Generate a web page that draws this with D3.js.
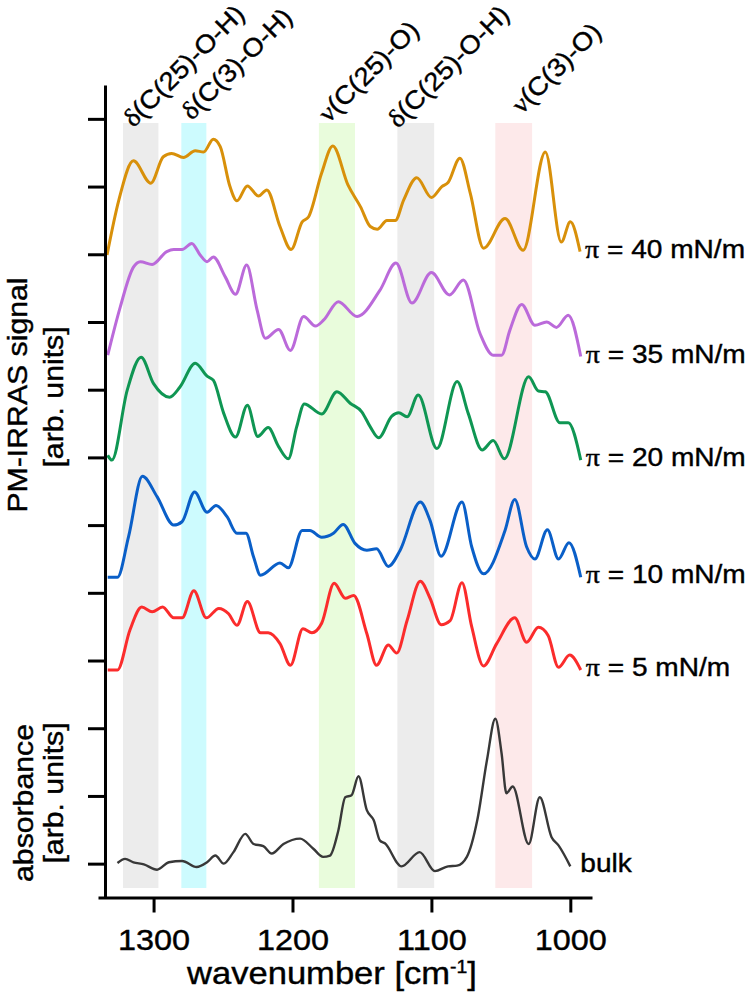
<!DOCTYPE html>
<html>
<head>
<meta charset="utf-8">
<script src="https://cdn.jsdelivr.net/npm/d3@7"></script>
<style>
  body { margin: 0; background: #fff; }
  text { font-family: "Liberation Sans", Arial, sans-serif; fill: #000; stroke: #000; stroke-width: 0.4px; }
</style>
</head>
<body>
<div id="chart"></div>
<script>
// PM-IRRAS spectra at several surface pressures + bulk absorbance

// parameters
var WIDTH = 753;
var HEIGHT = 997;
var STRETCH = 1.08;   // letters in the figure are a bit wider than Arial
var GREEK = "'Liberation Serif', 'Times New Roman', serif";

// absorption bands (cm-1)
var bandFrom = [1322, 1280, 1181, 1124.5, 1054];
var bandTo = [1296.5, 1262, 1155, 1098, 1027.5];
var bandFill = ["#ececec", "#cdfbfe", "#e9fcdc", "#ececec", "#fde9ea"];
var bandGreek = ["δ", "δ", "ν", "δ", "ν"];
var bandText = ["(C(25)-O-H)", "(C(3)-O-H)", "(C(25)-O)", "(C(25)-O-H)", "(C(3)-O)"];
var bandLabelWn = [1314.5, 1272.5, 1174, 1124, 1035];
var bandLabelY = [10.86, 10.97, 10.93, 10.85, 11.06];

// axis ticks
var xMajor = [1300, 1200, 1100, 1000];
var xMinor = [1325, 1275, 1250, 1225, 1175, 1150, 1125, 1075, 1050, 1025];
var yMajor = [0, 1, 2, 3, 4, 5, 6, 7, 8, 9, 10, 11];
var yMinor = [0.5, 1.5, 2.5, 3.5, 4.5, 5.5, 6.5, 7.5, 8.5, 9.5, 10.5, 11.5];

// spectra: [wavenumber, signal] (already offset as stacked in the figure)
var pi40 = [[1333.5,8.99],[1325,9.80],[1314.5,10.38],[1302,10.05],[1293,10.44],[1287,10.49],[1278.5,10.43],
  [1270,10.53],[1264,10.51],[1257,10.70],[1252,10.59],[1245,10.00],[1240,9.79],[1232.5,10.01],[1224.5,9.86],
  [1218.5,9.95],[1209,9.41],[1201,9.07],[1193,9.48],[1188.5,9.55],[1179,10.20],[1171,10.60],[1160,10.02],
  [1151,9.70],[1144,9.41],[1139,9.37],[1132,9.50],[1126,9.50],[1120,9.80],[1110.5,10.13],[1100,9.84],
  [1092.5,10.00],[1088,10.06],[1079.5,10.42],[1072,9.90],[1062.5,9.09],[1047,9.53],[1034,9.06],[1018,10.51],
  [1006.5,9.18],[1000,9.48],[993,9.04]];
var pi35 = [[1333,7.51],[1324,8.22],[1314.5,8.81],[1309.5,8.89],[1301,8.85],[1290.5,9.04],[1285.5,9.07],
  [1279.5,9.07],[1272.5,9.16],[1266.5,8.99],[1261.5,8.89],[1257,8.96],[1248.5,8.67],[1241,8.41],[1233,8.84],
  [1225.5,8.18],[1219.5,7.76],[1210,7.89],[1201.5,7.58],[1192,8.08],[1183.5,7.94],[1177.5,8.03],[1167,8.30],
  [1153.5,8.08],[1137,8.47],[1125.5,8.87],[1114,8.28],[1100,8.73],[1087,8.40],[1077,8.62],[1065,7.83],
  [1055.5,7.51],[1049.5,7.51],[1043.5,7.88],[1035,8.26],[1025.5,7.95],[1017,8.00],[1010,7.92],[1001.5,8.10],
  [992.5,7.49]];
var pi20 = [[1333,6.03],[1330,5.96],[1319,6.99],[1309,7.48],[1300,7.09],[1288.5,6.89],[1281,7.04],[1270,7.39],
  [1261.5,7.20],[1257,7.14],[1249.5,6.65],[1241,6.30],[1232.5,6.77],[1225,6.31],[1217.5,6.44],[1210,6.16],
  [1203,5.98],[1197,6.45],[1191.5,6.79],[1179,6.64],[1168,6.97],[1158.5,6.80],[1150,6.67],[1144,6.45],
  [1138,6.29],[1128.5,6.61],[1123.5,6.66],[1117.5,6.60],[1109.5,6.92],[1096,6.13],[1081.5,7.12],[1073.5,6.65],
  [1063.5,6.11],[1055.5,6.25],[1047.5,5.98],[1030,7.19],[1023,6.98],[1018,6.97],[1007.5,6.51],[1001.5,6.51],
  [992.5,5.96]];
var pi10 = [[1333,4.23],[1326,4.23],[1318,4.83],[1308,5.72],[1297.5,5.42],[1285.5,5.00],[1279.5,5.05],
  [1270.5,5.49],[1261.5,5.19],[1255,5.29],[1247,5.12],[1240,4.88],[1233.5,4.88],[1228,4.53],[1223,4.26],
  [1209,4.44],[1203,4.37],[1193,4.92],[1187.5,4.92],[1179,4.82],[1170.5,4.88],[1163.5,5.01],[1155,4.73],
  [1146.5,4.63],[1139.5,4.65],[1131,4.39],[1122.5,4.63],[1108,5.34],[1101,5.07],[1093,4.54],[1078,5.34],
  [1071,4.68],[1062.5,4.28],[1047,4.92],[1040,5.38],[1031.5,4.68],[1025.5,4.50],[1016.5,4.93],[1008.5,4.50],
  [1001,4.74],[992.5,4.23]];
var pi5 = [[1333,2.86],[1326,2.86],[1317,3.45],[1308.5,3.79],[1301,3.72],[1293.5,3.79],[1285.5,3.63],
  [1279.5,3.63],[1271,4.03],[1262,3.63],[1253,3.77],[1246,3.69],[1240,3.52],[1232.5,3.87],[1223,3.41],
  [1217.5,3.41],[1209,3.25],[1201.5,2.93],[1192.5,3.47],[1186,3.41],[1179,3.55],[1170,4.14],[1162,3.92],
  [1156,3.96],[1146.5,3.40],[1139.5,2.93],[1131,3.23],[1125,3.11],[1117.5,3.59],[1108,4.17],[1101,3.92],
  [1093,3.53],[1086.5,3.59],[1078,4.15],[1071,3.50],[1062.5,2.92],[1053,3.25],[1040,3.63],[1031.5,3.27],
  [1023,3.49],[1016,3.37],[1008.5,2.90],[1000.5,3.08],[992.5,2.86]];
var bulk = [[1326,0.01],[1320.5,0.07],[1314.5,0.02],[1307,-0.01],[1297.5,-0.09],[1289,0.02],[1279.5,0.04],
  [1269,-0.05],[1261.5,0.02],[1255.5,0.12],[1249.5,0.00],[1242.5,0.17],[1234,0.44],[1228,0.29],[1221,0.26],
  [1215,0.15],[1206.5,0.29],[1194.5,0.37],[1185,0.22],[1178,0.10],[1173,0.12],[1167,0.49],[1162,0.98],
  [1157.5,1.01],[1152.5,1.29],[1146.5,0.79],[1141.5,0.64],[1137,0.34],[1133.5,0.30],[1121.5,-0.04],
  [1108.5,0.17],[1097.5,-0.11],[1088,-0.04],[1081.5,-0.03],[1074.5,0.10],[1067,0.64],[1060,1.53],[1054,2.14],
  [1049.5,1.63],[1046,1.04],[1041.5,1.14],[1030,0.29],[1022,0.98],[1013.5,0.39],[1008.5,0.27],[1000,-0.04]];

var seriesData = [pi40, pi35, pi20, pi10, pi5, bulk];
var seriesName = ["40 mN/m", "35 mN/m", "20 mN/m", "10 mN/m", "5 mN/m", "bulk"];
var seriesColor = ["#d8900a", "#bb6ada", "#0f9653", "#0a5fc8", "#fb2c2c", "#383838"];

// scales
var x = d3.scaleLinear().domain([1340, 984.4]).range([98, 592]);
var y = d3.scaleLinear().domain([-0.5, 11.5]).range([897.5, 85]);
var YAXIS_X = 105;

var svg = d3.select("#chart").append("svg")
  .attr("width", WIDTH)
  .attr("height", HEIGHT);

// shaded bands
var BAND_TOP = 123;
var BAND_BOTTOM = 888;
svg.append("g").selectAll("rect")
  .data(bandFrom)
  .enter().append("rect")
  .attr("x", function(d, i){ return x(d); })
  .attr("width", function(d, i){ return x(bandTo[i]) - x(d); })
  .attr("y", BAND_TOP)
  .attr("height", BAND_BOTTOM - BAND_TOP)
  .style("fill", function(d, i){ return bandFill[i]; });

// band labels, rotated
var labels = svg.append("g").selectAll("text")
  .data(bandText)
  .enter().append("text")
  .attr("transform", function(d, i){
    return "translate(" + x(bandLabelWn[i]) + "," + y(bandLabelY[i]) + ") rotate(-45) scale(" + STRETCH + ",1)";
  })
  .style("font-size", "25.5px");
labels.append("tspan")
  .style("font-family", GREEK)
  .text(function(d, i){ return bandGreek[i]; });
labels.append("tspan")
  .text(function(d){ return d; });

// spectra
var line = d3.line()
  .x(function(d){ return x(d[0]); })
  .y(function(d){ return y(d[1]); })
  .curve(d3.curveMonotoneX);

svg.append("g").selectAll("path")
  .data(seriesData)
  .enter().append("path")
  .attr("d", line)
  .style("fill", "none")
  .style("stroke", function(d, i){ return seriesColor[i]; })
  .style("stroke-width", function(d, i){ return i == 5 ? 2.4 : 3; })
  .style("stroke-linejoin", "round");

// series names at the right end of each trace
var names = svg.append("g").selectAll("text")
  .data(seriesData)
  .enter().append("text")
  .attr("transform", function(d, i){
    var last = d[d.length - 1];
    var dx = i == 5 ? 10 : 5;
    return "translate(" + (x(last[0]) + dx) + "," + (y(last[1]) + 6) + ") scale(" + STRETCH + ",1)";
  })
  .style("font-size", "26px");
names.append("tspan")
  .style("font-family", GREEK)
  .text(function(d, i){ return i == 5 ? "" : "π"; });
names.append("tspan")
  .text(function(d, i){ return i == 5 ? seriesName[i] : " = " + seriesName[i]; });

// x axis
var xAxis = svg.append("g")
  .attr("transform", "translate(0," + y(-0.5) + ")");
xAxis.call(d3.axisBottom(x).tickValues(xMinor).tickSize(8).tickSizeOuter(0).tickFormat(""));
xAxis.call(d3.axisBottom(x).tickValues(xMajor).tickSize(15).tickSizeOuter(0).tickFormat(d3.format("d")));
xAxis.selectAll("path, line")
  .style("stroke", "#000")
  .style("stroke-width", 3);
xAxis.selectAll("text")
  .attr("y", 53)
  .attr("dy", "0")
  .attr("transform", "scale(" + STRETCH + ",1)")
  .style("font-size", "30px")
  .style("font-family", "'Liberation Sans', Arial, sans-serif")
  .style("fill", "#000");

// y axis (no labels)
var yAxis = svg.append("g")
  .attr("transform", "translate(" + YAXIS_X + ",0)");
yAxis.call(d3.axisLeft(y).tickValues(yMinor).tickSize(8).tickSizeOuter(0).tickFormat(""));
yAxis.call(d3.axisLeft(y).tickValues(yMajor).tickSize(17).tickSizeOuter(0).tickFormat(""));
yAxis.selectAll("path, line")
  .style("stroke", "#000")
  .style("stroke-width", 3);

// axis titles
var xTitle = svg.append("text")
  .attr("transform", "translate(332,984) scale(" + STRETCH + ",1)")
  .attr("text-anchor", "middle")
  .style("font-size", "32px");
xTitle.append("tspan").text("wavenumber [cm");
xTitle.append("tspan").attr("dy", -11).style("font-size", "18px").text("-1");
xTitle.append("tspan").attr("dy", 11).text("]");

var yTitles = [
  ["PM-IRRAS signal", 27, 395],
  ["[arb. units]", 63, 397],
  ["absorbance", 33, 803],
  ["[arb. units]", 63, 793]
];
svg.append("g").selectAll("text")
  .data(yTitles)
  .enter().append("text")
  .attr("transform", function(d){
    return "translate(" + d[1] + "," + d[2] + ") rotate(-90) scale(" + STRETCH + ",1)";
  })
  .attr("text-anchor", "middle")
  .style("font-size", "28px")
  .text(function(d){ return d[0]; });
</script>
</body>
</html>
